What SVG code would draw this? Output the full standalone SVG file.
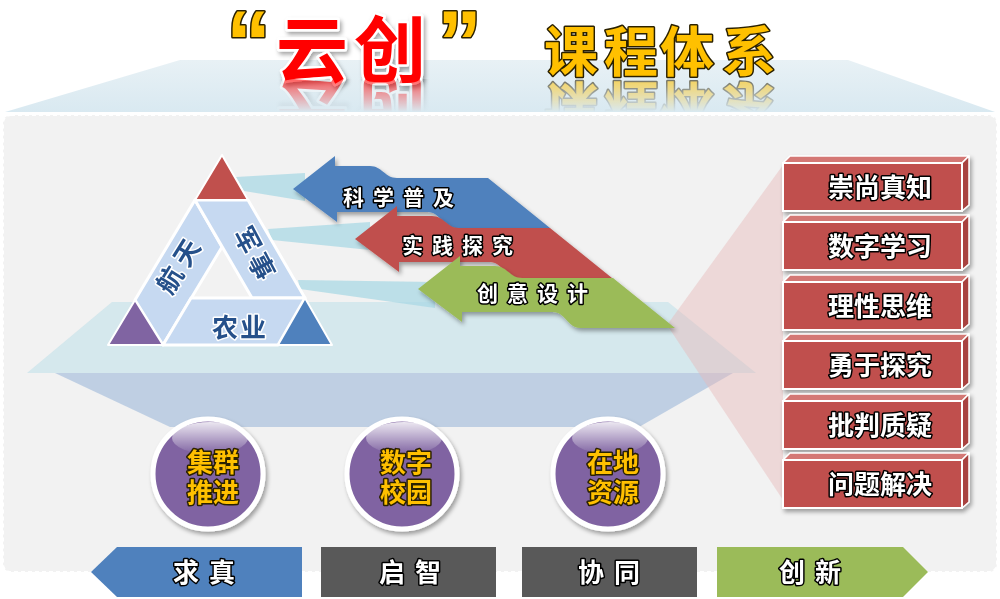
<svg xmlns="http://www.w3.org/2000/svg" width="1000" height="599" viewBox="0 0 1000 599">
<defs>
<style>
.cjk{font-family:"Noto Sans CJK SC","Noto Sans",sans-serif;font-weight:700}
.wt{fill:#fff;stroke:#000;stroke-width:3;paint-order:stroke;stroke-linejoin:round}
.gold{fill:#ffc000;stroke:#2b2100;stroke-width:3;paint-order:stroke;stroke-linejoin:round}
.tri{fill:#25508a;stroke:#fff;stroke-width:3;paint-order:stroke;stroke-linejoin:round;font-size:26px}
.band{fill:#c6d9f1;stroke:#fff;stroke-width:3;stroke-linejoin:round}
.strip{fill:#a9d8e4;opacity:.75}
.circ{fill:#8064a2;stroke:#fff;stroke-width:5}
.tag{font-size:26px}
</style>
<filter id="sh" x="-20%" y="-20%" width="140%" height="160%"><feDropShadow dx="2" dy="3" stdDeviation="2" flood-color="#000" flood-opacity=".35"/></filter>
<linearGradient id="topg" x1="0" y1="0" x2="0" y2="1"><stop offset="0" stop-color="#e8f1f5"/><stop offset="1" stop-color="#d9e9f1"/></linearGradient>
<linearGradient id="gloss" x1="0" y1="0" x2="0" y2="1"><stop offset="0" stop-color="#fff" stop-opacity=".85"/><stop offset="1" stop-color="#fff" stop-opacity="0"/></linearGradient>
<linearGradient id="fade" gradientUnits="userSpaceOnUse" x1="0" y1="80" x2="0" y2="112"><stop offset="0" stop-color="#fff" stop-opacity=".6"/><stop offset="1" stop-color="#fff" stop-opacity="0"/></linearGradient>
<mask id="refl" maskUnits="userSpaceOnUse" x="0" y="0" width="1000" height="599"><rect x="0" y="79" width="1000" height="35" fill="url(#fade)"/></mask>
<path id="arr" d="M418,289 L460,256 L460,266 L495,266 C507,266 510,278 522,278 L613,278 L675,328 L580,328 C568,328 565,312 553,312 L462,312 L462,322 Z"/>
<g id="boxshape">
<polygon points="783,163 790,156 969,156 962,163" fill="#d47874" stroke="#fff" stroke-width="1.5" stroke-linejoin="round"/>
<polygon points="962,163 969,156 969,205 962,211" fill="#a8423f" stroke="#fff" stroke-width="1.5" stroke-linejoin="round"/>
<rect x="783" y="163" width="179" height="48" fill="#c0504d" stroke="#fff" stroke-width="2"/>
</g>
</defs>

<rect width="1000" height="599" fill="#fff"/>
<polygon id="top-plane" points="180,60 848,60 995,112 5,112" fill="url(#topg)"/>
<rect id="panel" x="3" y="115" width="994" height="457" rx="8" fill="#f2f2f2" stroke="#fff" stroke-width="2" stroke-dasharray="4 3"/>

<g id="title">
<g id="title-main">
<text x="226" y="74" style="font-family:'Liberation Sans',sans-serif;font-weight:700" font-size="90" class="gold">“</text>
<text x="437" y="74" style="font-family:'Liberation Sans',sans-serif;font-weight:700" font-size="90" class="gold">”</text>
<text class="cjk" x="312 390" y="76" text-anchor="middle" font-size="72" fill="#ff0000" stroke="#fff" stroke-width="5" paint-order="stroke" stroke-linejoin="round" filter="url(#sh)">云创</text>
<text class="cjk gold" x="571 631 687 749" y="72" text-anchor="middle" font-size="54">课程体系</text>
</g>
<g mask="url(#refl)"><use href="#title-main" transform="translate(0,158) scale(1,-1)"/></g>
</g>

<g id="platform">
<polygon points="112,302 668,302 756,373 27,373" fill="#b7dde8" opacity=".5"/>
<polygon points="55,373 733,373 639,427 170,427" fill="#95b3d7" opacity=".55"/>
</g>

<g id="connectors">
<polygon class="strip" points="236,177 305,173 305,201 244,191"/>
<polygon class="strip" points="268,229 370,222 370,250 272,240"/>
<polygon class="strip" points="298,280 435,282 435,308 300,289"/>
<polygon points="667,325 783,165 783,500" fill="#e6b9b8" opacity=".45"/>
</g>

<g id="triangle">
<polygon class="band" points="195,200 222,247 163,345 135,300"/>
<polygon class="band" points="195,200 248,200 305,298 252,298"/>
<polygon class="band" points="191,298 305,298 278,345 163,345"/>
<polygon points="222,155 195,200 248,200" fill="#c0504d" stroke="#fff" stroke-width="2" stroke-linejoin="round"/>
<polygon points="135,300 108,345 163,345" fill="#8064a2" stroke="#fff" stroke-width="2" stroke-linejoin="round"/>
<polygon points="305,298 278,345 332,345" fill="#4f81bd" stroke="#fff" stroke-width="2" stroke-linejoin="round"/>
<text class="cjk tri" transform="translate(178,266) rotate(-58)" x="-16 16" y="10" text-anchor="middle">航天</text>
<text class="cjk tri" transform="translate(255,253) rotate(62)" x="-15 15" y="10" text-anchor="middle">军事</text>
<text class="cjk tri" x="225 253" y="337" text-anchor="middle">农业</text>
</g>

<g id="arrow-kepu" filter="url(#sh)">
<use href="#arr" transform="translate(-125,-100)" fill="#4f81bd"/>
<text class="cjk wt" x="343 373 403 433" y="205" font-size="21">科学普及</text>
</g>
<g id="arrow-shijian" filter="url(#sh)">
<use href="#arr" transform="translate(-63,-50)" fill="#c0504d"/>
<text class="cjk wt" x="402 432 462 492" y="253" font-size="21">实践探究</text>
</g>
<g id="arrow-chuangyi" filter="url(#sh)">
<use href="#arr" fill="#9bbb59"/>
<text class="cjk wt" x="477 507 537 567" y="301" font-size="21">创意设计</text>
</g>

<g id="circle-jiqun" filter="url(#sh)">
<circle class="circ" cx="208" cy="474" r="55"/>
<ellipse cx="210" cy="438" rx="38" ry="16" fill="url(#gloss)"/>
<text class="cjk gold" font-size="26" text-anchor="middle"><tspan x="213" y="472">集群</tspan><tspan x="213" y="502">推进</tspan></text>
</g>
<g id="circle-shuzi" filter="url(#sh)">
<circle class="circ" cx="402" cy="474" r="55"/>
<ellipse cx="404" cy="438" rx="38" ry="16" fill="url(#gloss)"/>
<text class="cjk gold" font-size="26" text-anchor="middle"><tspan x="406" y="472">数字</tspan><tspan x="406" y="502">校园</tspan></text>
</g>
<g id="circle-zaidi" filter="url(#sh)">
<circle class="circ" cx="608" cy="474" r="55"/>
<ellipse cx="610" cy="438" rx="38" ry="16" fill="url(#gloss)"/>
<text class="cjk gold" font-size="26" text-anchor="middle"><tspan x="613" y="472">在地</tspan><tspan x="613" y="502">资源</tspan></text>
</g>

<g id="boxes" class="cjk">
<g id="box1" filter="url(#sh)"><use href="#boxshape"/><text class="wt" x="880" y="197" font-size="26" text-anchor="middle">崇尚真知</text></g>
<g id="box2" filter="url(#sh)"><use href="#boxshape" y="59"/><text class="wt" x="880" y="256" font-size="26" text-anchor="middle">数字学习</text></g>
<g id="box3" filter="url(#sh)"><use href="#boxshape" y="119"/><text class="wt" x="880" y="316" font-size="26" text-anchor="middle">理性思维</text></g>
<g id="box4" filter="url(#sh)"><use href="#boxshape" y="178"/><text class="wt" x="880" y="375" font-size="26" text-anchor="middle">勇于探究</text></g>
<g id="box5" filter="url(#sh)"><use href="#boxshape" y="238"/><text class="wt" x="880" y="435" font-size="26" text-anchor="middle">批判质疑</text></g>
<g id="box6" filter="url(#sh)"><use href="#boxshape" y="297"/><text class="wt" x="880" y="494" font-size="26" text-anchor="middle">问题解决</text></g>
</g>

<g id="tags" class="cjk">
<g id="tag-qiuzhen"><polygon points="91,572 117,547 302,547 302,597 117,597" fill="#4f81bd"/><text class="wt tag" x="186 222" y="582" text-anchor="middle">求真</text></g>
<g id="tag-qizhi"><rect x="321" y="547" width="175" height="50" fill="#595959"/><text class="wt tag" x="392 428" y="582" text-anchor="middle">启智</text></g>
<g id="tag-xietong"><rect x="522" y="547" width="175" height="50" fill="#595959"/><text class="wt tag" x="591 627" y="582" text-anchor="middle">协同</text></g>
<g id="tag-chuangxin"><polygon points="717,547 903,547 928,572 903,597 717,597" fill="#9bbb59"/><text class="wt tag" x="792 828" y="582" text-anchor="middle">创新</text></g>
</g>
</svg>
